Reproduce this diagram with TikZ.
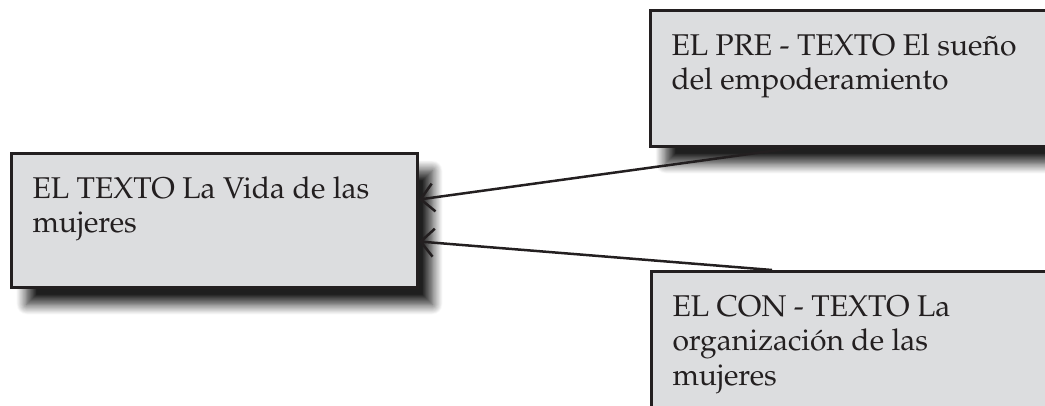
\documentclass[tikz,border=0pt]{standalone}
\usepackage[T1]{fontenc}
\renewcommand{\rmdefault}{ppl}
\usetikzlibrary{arrows.meta,shadows.blur,calc}
\definecolor{boxfill}{HTML}{DCDDDF}
\definecolor{ink}{HTML}{231F20}
\begin{document}
\begin{tikzpicture}[x=1pt,y=-1pt,
  card/.style={draw=ink, line width=3pt, fill=boxfill, anchor=north west,
    inner xsep=21pt, inner ysep=22.5pt, text=ink,
    font=\fontsize{30}{34.5}\selectfont,
    blur shadow={shadow xshift=15pt, shadow yshift=-17pt, shadow blur radius=10pt,
      shadow blur steps=14, shadow opacity=88}},
  link/.style={draw=ink, line width=2.5pt, -{Straight Barb[length=13pt,width=28pt]}}
]
\useasboundingbox (0,0) rectangle (1045,405);
\node[card] (texto) at (10,152)
  {\parbox[c][89pt][t]{364pt}{\raggedright\rule{0pt}{22pt}EL TEXTO La Vida de las\\mujeres}};
\node[card] (pre) at (649,9)
  {\parbox[c][91pt][t]{364pt}{\raggedright\rule{0pt}{22pt}EL PRE - TEXTO El sue\~no\\del empoderamiento}};
\node[card] (con) at (650,270)
  {\parbox[c][91pt][t]{364pt}{\raggedright\rule{0pt}{22pt}EL CON - TEXTO La\\organizaci\'on de las\\mujeres}};
\draw[link] ($(pre.south west)+(144,0)$) -- ($(texto.east)+(0,-21)$);
\draw[link] ($(con.north west)+(122,0)$) -- ($(texto.east)+(0,21)$);
\end{tikzpicture}
\end{document}
